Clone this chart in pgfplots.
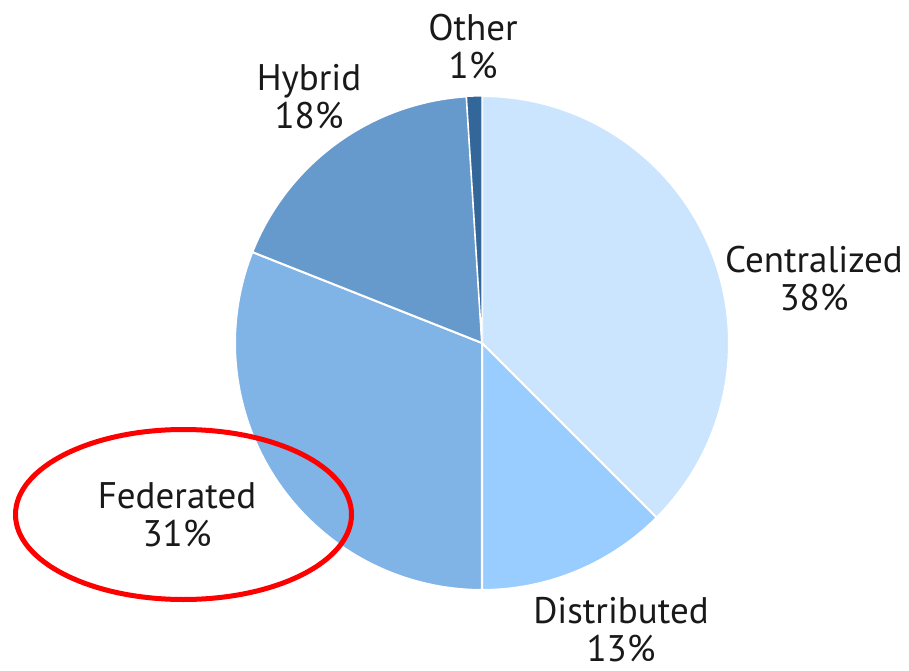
\documentclass[border=0pt]{standalone}
\usepackage{fontspec}
\setmainfont{PT Sans}
\usepackage{pgfplots}
\pgfplotsset{compat=1.18}
\definecolor{cCen}{HTML}{CCE5FF}
\definecolor{cDis}{HTML}{99CCFF}
\definecolor{cFed}{HTML}{80B3E6}
\definecolor{cHyb}{HTML}{6699CC}
\definecolor{cOth}{HTML}{336699}
\tikzset{lbl/.style={font=\fontsize{18.5}{19}\selectfont, align=center, text=black!90, inner sep=0pt}}
\begin{document}
\begin{tikzpicture}
\begin{axis}[
  scale only axis, width=454.5pt, height=335pt,
  xmin=0, xmax=909, ymin=0, ymax=670,
  hide axis, clip=false,
]
\addplot[draw=none, forget plot] coordinates {(0,0) (909,670)};
% shares (percent): Centralized 37.5, Distributed 12.5, Federated 31, Hybrid 18, Other 1
\addplot[fill=cCen, draw=white, line width=1pt, samples=120, domain={90-3.6*37.5}:90]
  ({482+247*cos(x)},{327+247*sin(x)}) -- (482,327) -- cycle;
\addplot[fill=cDis, draw=white, line width=1pt, samples=60, domain={90-3.6*50}:{90-3.6*37.5}]
  ({482+247*cos(x)},{327+247*sin(x)}) -- (482,327) -- cycle;
\addplot[fill=cFed, draw=white, line width=1pt, samples=100, domain={90-3.6*81}:{90-3.6*50}]
  ({482+247*cos(x)},{327+247*sin(x)}) -- (482,327) -- cycle;
\addplot[fill=cHyb, draw=white, line width=1pt, samples=80, domain={90-3.6*99}:{90-3.6*81}]
  ({482+247*cos(x)},{327+247*sin(x)}) -- (482,327) -- cycle;
\addplot[fill=cOth, draw=white, line width=0.6pt, samples=10, domain={90-360}:{90-3.6*99}]
  ({482+247*cos(x)},{327+247*sin(x)}) -- (482,327) -- cycle;
\node[lbl] at (814,391.5) {Centralized\\38\%};
\node[lbl] at (621,40) {Distributed\\13\%};
\node[lbl] at (177,155) {Federated\\31\%};
\node[lbl] at (309,573.5) {Hybrid\\18\%};
\node[lbl] at (473,623.5) {Other\\1\%};
\draw[red, line width=2.5pt] (183.5,155.5) ellipse [x radius=84pt, y radius=42.5pt];
\end{axis}
\end{tikzpicture}
\end{document}
